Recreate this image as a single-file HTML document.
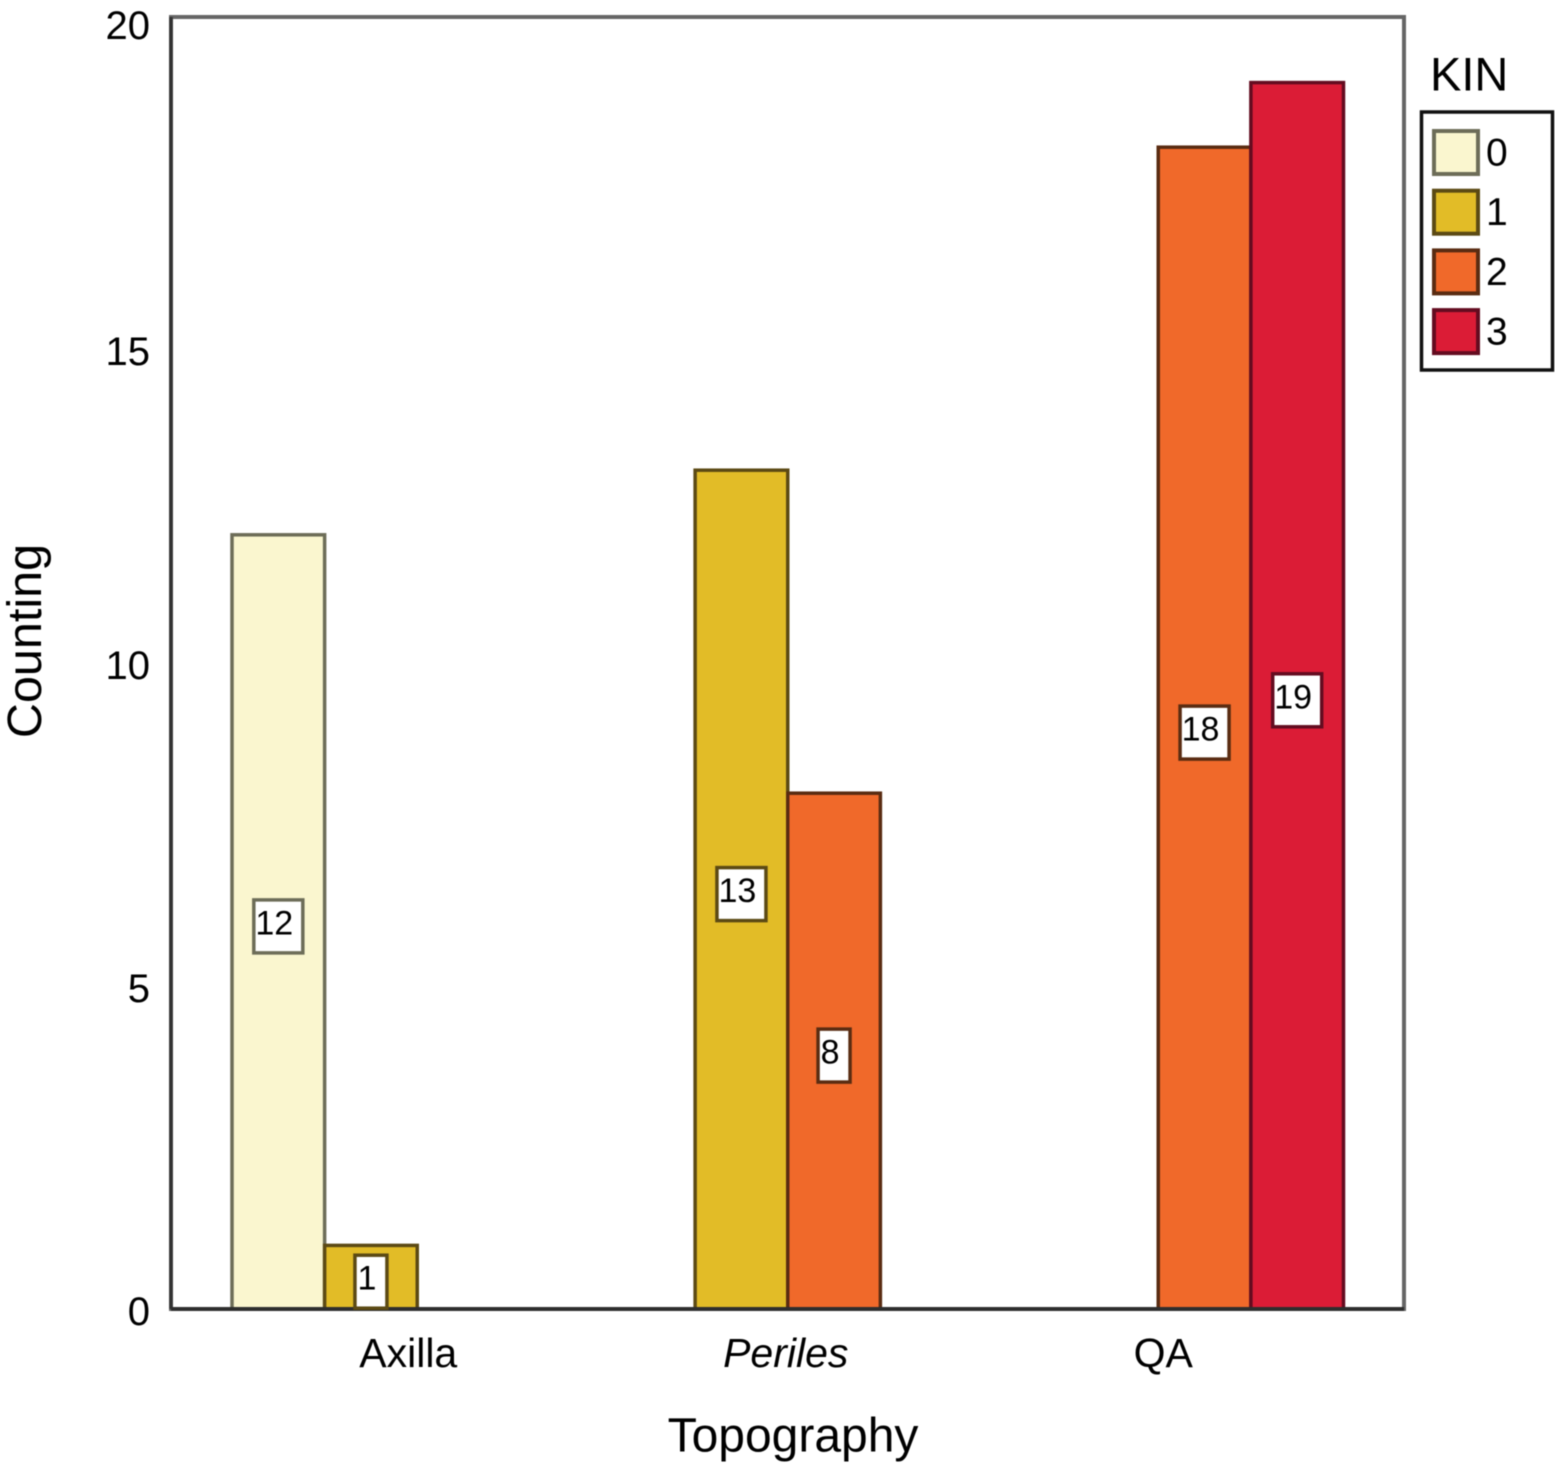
<!DOCTYPE html>
<html lang="en">
<head>
<meta charset="utf-8">
<title>Counting by Topography and KIN</title>
<style>
  html, body { margin: 0; padding: 0; background: #fff; }
  svg { display: block; font-family: "Liberation Sans", sans-serif; fill: #000; filter: blur(0.5px); }
</style>
</head>
<body>
<svg id="chart" xmlns="http://www.w3.org/2000/svg" width="1555" height="1464" viewBox="0 0 1555 1464">
  <rect width="1555" height="1464" fill="#fff"></rect>
</svg>
<script>
const categories = ['Axilla', 'Periles', 'QA'];
const seriesNames = ['0', '1', '2', '3'];
const kin0Values = [12, 0, 0];
const kin1Values = [1, 13, 0];
const kin2Values = [0, 8, 18];
const kin3Values = [0, 0, 19];
const yTickLabels = [0, 5, 10, 15, 20];
const seriesColors = ['#faf6cf', '#e2bc27', '#f0692a', '#db1c36'];
const seriesStrokes = ['#6d6d58', '#5c4a14', '#5a2c12', '#640c20'];

const allSeries = [kin0Values, kin1Values, kin2Values, kin3Values];
const svg = document.getElementById('chart');
const NS = 'http://www.w3.org/2000/svg';

const plotLeft = 171, plotRight = 1404, plotTop = 17, plotBottom = 1309;
const bandStart = 232, bandWidth = 370.5;
const yMax = 20;

function yScale(v) { return plotBottom - (v / yMax) * (plotBottom - plotTop); }
function barLeft(catIndex, serIndex) { return bandStart + catIndex * bandWidth + serIndex * bandWidth / seriesNames.length; }
function make(tag, attrs, text) {
  const el = document.createElementNS(NS, tag);
  for (const k in attrs) el.setAttribute(k, attrs[k]);
  if (text !== undefined) el.textContent = text;
  svg.appendChild(el);
  return el;
}

// Plot frame
const frame = make('rect', { x: plotLeft, y: plotTop, width: plotRight - plotLeft, height: plotBottom - plotTop, fill: 'none', stroke: '#666', 'stroke-width': 4 });


const leftAxis = make('line', { x1: plotLeft, x2: plotLeft, y1: plotTop, y2: plotBottom, stroke: '#333', 'stroke-width': 3.5 });



// Y tick labels (hand-placed in the source: upper labels sit slightly lower)
yTickLabels.forEach(function (v) {
  const nudge = v === 15 ? 12 : (v === 20 ? 9 : 3);
  const t = make('text', { x: 150, y: yScale(v) + nudge, 'font-size': 40, 'text-anchor': 'end', 'dominant-baseline': 'central' }, String(v));
  
  
});

// Bars
const barWidth = bandWidth / seriesNames.length;
allSeries.forEach(function (values, s) {
  values.forEach(function (v, c) {
    if (v <= 0) return;
    const bar = make('rect', { x: barLeft(c, s), y: yScale(v) + 1, width: barWidth, height: plotBottom - yScale(v) - 1, fill: seriesColors[s], stroke: seriesStrokes[s], 'stroke-width': 3.5 });
    
    
  });
});

// Baseline above the bars
const baseline = make('line', { x1: plotLeft, x2: plotRight, y1: plotBottom, y2: plotBottom, stroke: '#2e2e2e', 'stroke-width': 4 });



// Value labels
allSeries.forEach(function (values, s) {
  values.forEach(function (v, c) {
    if (v <= 0) return;
    const label = String(v);
    const cx = barLeft(c, s) + barWidth / 2;
    const midY = yScale(v / 2);
    const boxW = label.length > 1 ? 49 : 32;
    const boxH = 53;
    const box = make('rect', { x: cx - boxW / 2, y: midY + 5 - boxH / 2, width: boxW, height: boxH, fill: '#fff', stroke: seriesStrokes[s], 'stroke-width': 3.5 });
    
    
    const t = make('text', { x: cx - 4, y: midY + 2, 'font-size': 34, 'text-anchor': 'middle', 'dominant-baseline': 'central' }, label);
    
    
  });
});

// Category labels
categories.forEach(function (name, c) {
  const center = bandStart + (c + 0.5) * bandWidth;
  const shift = (c - 1) * 7 - 2;
  const t = make('text', { x: center + shift, y: 1353, 'font-size': 41, 'text-anchor': 'middle', 'dominant-baseline': 'central' }, name);
  if (name === 'Periles') t.setAttribute('font-style', 'italic');
  
  
});

// Axis titles
const xTitle = make('text', { x: 793, y: 1436, 'font-size': 48, 'text-anchor': 'middle', 'dominant-baseline': 'central' }, 'Topography');


const yTitle = make('text', { x: 0, y: 0, 'font-size': 48.5, 'text-anchor': 'middle', 'dominant-baseline': 'central', transform: 'translate(25 641) rotate(-90)' }, 'Counting');



// Legend
const legendTitle = make('text', { x: 1430, y: 74, 'font-size': 47, 'dominant-baseline': 'central' }, 'KIN');


const legendBox = make('rect', { x: 1421.5, y: 112, width: 131, height: 258, fill: '#fff', stroke: '#111', 'stroke-width': 3.5 });


seriesNames.forEach(function (name, i) {
  const rowY = 152 + i * 59.7;
  const swatch = make('rect', { x: 1434, y: rowY - 21, width: 44, height: 43, fill: seriesColors[i], stroke: seriesStrokes[i], 'stroke-width': 4 });
  
  
  const t = make('text', { x: 1486, y: rowY + 1, 'font-size': 39, 'dominant-baseline': 'central' }, name);
  
  
});
</script>
</body>
</html>
